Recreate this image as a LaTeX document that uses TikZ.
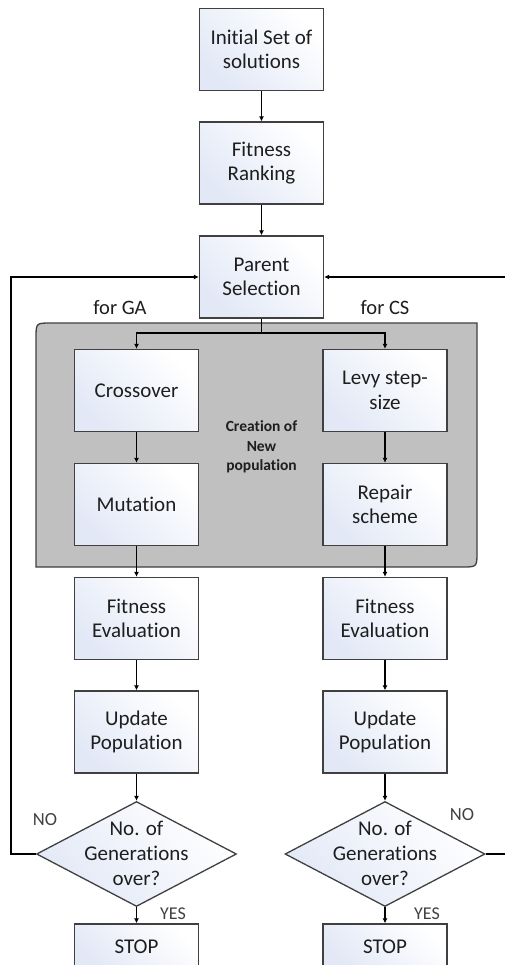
\documentclass[tikz,border=0pt]{standalone}
\usepackage{fontspec}
\setmainfont{Carlito}[Ligatures=NoCommon]
\usetikzlibrary{shapes.geometric,arrows.meta}
\definecolor{linec}{HTML}{404040}
\definecolor{boxblue}{HTML}{E2E8F6}
\definecolor{txt}{HTML}{1E1E1E}
\definecolor{panel}{HTML}{C0C0C0}
\newcommand{\diatext}{\makebox[0pt]{\smash{\raisebox{-7pt}{\begin{tabular}{@{}c@{}}No. of\\Generations\\over?\end{tabular}}}}}
\begin{document}
\begin{tikzpicture}[x=1pt,y=-1pt,
  box/.style={draw=linec, line width=1.3pt, left color=boxblue, right color=white, shading angle=135,
    minimum width=124pt, minimum height=82pt, inner sep=0pt, align=center,
    font=\fontsize{21}{24.5}\selectfont, text=txt},
  stopbox/.style={box, minimum height=46pt},
  dia/.style={diamond, draw=linec, line width=1.3pt, left color=boxblue, right color=white, shading angle=135,
    minimum width=200pt, minimum height=105pt, inner sep=0pt,
    font=\fontsize{21}{25}\selectfont, text=txt},
  arr/.style={draw=black, line width=1.3pt, -{Latex[length=5pt,width=5pt]}},
  lbl/.style={font=\fontsize{20.5}{22}\selectfont, text=txt},
  yn/.style={font=\fontsize{18.5}{20}\selectfont, text=linec}]
\useasboundingbox (0,0) rectangle (505,965);
\clip (0,0) rectangle (505,965);
% panel
\draw[fill=panel, draw=linec, line width=1.3pt]
  (36,338) .. controls (36,323) .. (51,323) -- (477,323) -- (477,552)
  .. controls (477,567) .. (462,567) -- (36,567) -- cycle;
\node[font=\bfseries\fontsize{15.5}{19.5}\selectfont, text=txt, align=center] (creat) at (261.5,447) {Creation of\\New\\population};
% nodes
\node[box] (init) at (261.5,49.5) {Initial Set of\\solutions};
\node[box] (rank) at (261.5,163) {Fitness\\Ranking};
\node[box] (par) at (261.5,277) {Parent\\Selection};
\node[box] (cross) at (136.5,390.5) {Crossover};
\node[box] (levy) at (385,390.5) {Levy step-\\size};
\node[box] (mut) at (136.5,504.5) {Mutation};
\node[box] (rep) at (385,504.5) {Repair\\scheme};
\node[box] (fe1) at (136.5,618.5) {Fitness\\Evaluation};
\node[box] (fe2) at (385,618.5) {Fitness\\Evaluation};
\node[box] (up1) at (136.5,732) {Update\\Population};
\node[box] (up2) at (385,732) {Update\\Population};
\node[dia] (d1) at (136.5,854) {\diatext};
\node[dia] (d2) at (385,854) {\diatext};
\node[stopbox] (s1) at (136.5,947) {STOP};
\node[stopbox] (s2) at (385,947) {STOP};
% labels
\node[lbl] (ga) at (120,308) {for GA};
\node[lbl] (cs) at (385,308) {for CS};
\node[yn] (no1) at (45,820) {NO};
\node[yn] (no2) at (462,815) {NO};
\node[yn, font=\fontsize{18}{20}\selectfont] (yes1) at (173,914) {YES};
\node[yn, font=\fontsize{18}{20}\selectfont] (yes2) at (427,914) {YES};
% coordinates
\coordinate (split) at (261.5,333);
\coordinate (lx) at (11,0);
\coordinate (rx) at (508,0);
% connectors
\draw[arr] (init) -- (rank);
\draw[arr] (rank) -- (par);
\draw[line width=1.3pt] (par.south) -- (split);
\draw[arr] (split) -| (cross.north);
\draw[arr] (split) -| (levy.north);
\draw[arr] (cross) -- (mut);
\draw[arr] (levy) -- (rep);
\draw[arr] (mut) -- (fe1);
\draw[arr] (rep) -- (fe2);
\draw[arr] (fe1) -- (up1);
\draw[arr] (fe2) -- (up2);
\draw[arr] (up1) -- (d1.north);
\draw[arr] (up2) -- (d2.north);
\draw[arr] (d1.south) -- (s1.north);
\draw[arr] (d2.south) -- (s2.north);
\draw[arr] (d1.west) -- (d1.west -| lx) |- (par.west);
\draw[arr] (d2.east) -- (d2.east -| rx) |- (par.east);
\end{tikzpicture}
\end{document}
